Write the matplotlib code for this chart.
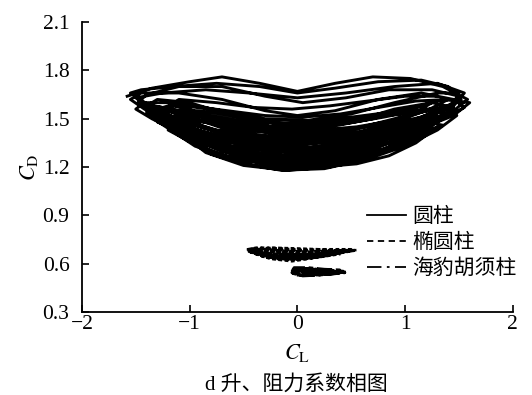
import numpy as np
import matplotlib
matplotlib.use("Agg")
import matplotlib.pyplot as plt

plt.rcParams['font.family'] = ['Liberation Serif', 'Noto Sans CJK SC']
plt.rcParams['mathtext.fontset'] = 'stix'

# circular cylinder (CL, CD), read swing by swing
circ = [
    (-1.58, 1.64), (-1.35, 1.69), (-1.0, 1.73), (-0.7, 1.76), (-0.35, 1.72), (0, 1.67), (0.35, 1.72), (0.7, 1.76), (1.05, 1.75), (1.35, 1.70), (1.58, 1.62),
    (1.45, 1.55), (1.2, 1.47), (0.8, 1.36), (0.4, 1.28), (0, 1.25), (-0.4, 1.28), (-0.8, 1.36), (-1.15, 1.46), (-1.42, 1.56), (-1.55, 1.62),
    (-1.45, 1.66), (-1.1, 1.66), (-0.7, 1.62), (-0.3, 1.55), (0, 1.52), (0.35, 1.55), (0.75, 1.62), (1.15, 1.66), (1.45, 1.62), (1.55, 1.57),
    (1.35, 1.50), (1.1, 1.40), (0.75, 1.30), (0.35, 1.22), (0, 1.19), (-0.4, 1.21), (-0.75, 1.28), (-1.0, 1.37), (-1.25, 1.50), (-1.4, 1.58),
    (-1.3, 1.62), (-1.0, 1.60), (-0.6, 1.52), (-0.25, 1.45), (0.1, 1.43), (0.5, 1.48), (0.9, 1.56), (1.25, 1.60), (1.45, 1.57),
    (1.3, 1.48), (1.05, 1.38), (0.7, 1.27), (0.3, 1.20), (-0.1, 1.18), (-0.5, 1.21), (-0.85, 1.29), (-1.1, 1.42), (-1.3, 1.53), (-1.48, 1.60),
    (-1.4, 1.65), (-1.1, 1.70), (-0.7, 1.70), (-0.3, 1.64), (0.05, 1.60), (0.45, 1.63), (0.85, 1.68), (1.25, 1.68), (1.5, 1.64),
    (1.4, 1.57), (1.1, 1.50), (0.7, 1.40), (0.3, 1.33), (-0.1, 1.31), (-0.5, 1.34), (-0.9, 1.42), (-1.2, 1.52), (-1.4, 1.59),
    (-1.25, 1.57), (-0.95, 1.50), (-0.6, 1.42), (-0.25, 1.37), (0.1, 1.36), (0.5, 1.40), (0.85, 1.47), (1.15, 1.54), (1.4, 1.58),
    (1.25, 1.52), (0.95, 1.42), (0.6, 1.33), (0.2, 1.27), (-0.2, 1.26), (-0.55, 1.30), (-0.9, 1.38), (-1.15, 1.48), (-1.35, 1.56),
    (-1.2, 1.55), (-0.9, 1.46), (-0.55, 1.38), (-0.2, 1.33), (0.2, 1.32), (0.55, 1.36), (0.9, 1.43), (1.2, 1.52), (1.45, 1.60),
    (1.5, 1.66), (1.3, 1.66), (0.9, 1.60), (0.5, 1.53), (0.1, 1.49), (-0.3, 1.50), (-0.7, 1.55), (-1.1, 1.60), (-1.42, 1.60), (-1.5, 1.56),
    (-1.35, 1.50), (-1.05, 1.40), (-0.7, 1.30), (-0.35, 1.24), (0, 1.22), (0.4, 1.25), (0.75, 1.32), (1.05, 1.42), (1.3, 1.52),
    (1.2, 1.50), (0.9, 1.45), (0.55, 1.40), (0.2, 1.37), (-0.2, 1.38), (-0.6, 1.43), (-0.95, 1.50), (-1.25, 1.56), (-1.45, 1.58),
    (-1.3, 1.55), (-1.0, 1.47), (-0.65, 1.40), (-0.3, 1.35), (0.05, 1.34), (0.4, 1.37), (0.75, 1.42), (1.1, 1.48), (1.35, 1.52),
    (1.15, 1.44), (0.85, 1.35), (0.5, 1.28), (0.15, 1.24), (-0.25, 1.24), (-0.6, 1.28), (-0.95, 1.36), (-1.2, 1.45), (-1.4, 1.54),
    (-1.2, 1.58), (-0.9, 1.57), (-0.55, 1.52), (-0.2, 1.47), (0.15, 1.46), (0.5, 1.49), (0.85, 1.53), (1.2, 1.55), (1.48, 1.52),
    (1.3, 1.43), (1.0, 1.33), (0.65, 1.25), (0.25, 1.19), (-0.15, 1.18), (-0.5, 1.22), (-0.8, 1.28), (-1.05, 1.38), (-1.3, 1.50),
    (-1.15, 1.50), (-0.85, 1.44), (-0.5, 1.40), (-0.15, 1.39), (0.2, 1.40), (0.55, 1.44), (0.9, 1.50), (1.2, 1.56), (1.42, 1.55),
    (1.3, 1.50), (1.0, 1.43), (0.65, 1.36), (0.3, 1.30), (-0.05, 1.29), (-0.45, 1.32), (-0.8, 1.39), (-1.1, 1.47), (-1.35, 1.55),
    (-1.5, 1.63), (-1.25, 1.66), (-0.85, 1.68), (-0.45, 1.66), (0, 1.63), (0.45, 1.66), (0.9, 1.70), (1.3, 1.72), (1.55, 1.66),
    (1.4, 1.54), (1.1, 1.45), (0.7, 1.35), (0.3, 1.29), (-0.1, 1.27), (-0.5, 1.29), (-0.85, 1.34), (-1.1, 1.42), (-1.3, 1.48),
    (-1.1, 1.46), (-0.8, 1.41), (-0.45, 1.36), (-0.1, 1.34), (0.3, 1.35), (0.65, 1.39), (0.95, 1.44), (1.2, 1.48), (1.35, 1.46),
    (1.1, 1.38), (0.8, 1.30), (0.45, 1.24), (0.1, 1.21), (-0.3, 1.22), (-0.65, 1.26), (-0.95, 1.33), (-1.2, 1.44), (-1.38, 1.52),
    (-1.2, 1.52), (-0.9, 1.48), (-0.5, 1.45), (-0.1, 1.43), (0.3, 1.45), (0.7, 1.50), (1.05, 1.56), (1.35, 1.62), (1.6, 1.60),
    (1.45, 1.52), (1.15, 1.44), (0.8, 1.37), (0.4, 1.33), (0, 1.31), (-0.4, 1.33), (-0.75, 1.37), (-1.05, 1.45), (-1.3, 1.55), (-1.55, 1.66),
    (-1.45, 1.68), (-1.15, 1.70), (-0.75, 1.72), (-0.35, 1.70), (0, 1.66), (0.35, 1.69), (0.75, 1.73), (1.15, 1.74), (1.4, 1.70), (1.52, 1.62),
    (1.35, 1.55), (1.05, 1.47), (0.7, 1.40), (0.35, 1.36), (0, 1.35), (-0.35, 1.37), (-0.7, 1.41), (-1.0, 1.47), (-1.25, 1.53),
    (-1.05, 1.49), (-0.75, 1.43), (-0.4, 1.39), (-0.05, 1.38), (0.3, 1.39), (0.65, 1.42), (0.95, 1.47), (1.25, 1.52),
    (1.05, 1.45), (0.75, 1.39), (0.4, 1.34), (0.05, 1.32), (-0.3, 1.33), (-0.65, 1.36), (-0.95, 1.42), (-1.2, 1.49),
    (-1.0, 1.43), (-0.7, 1.37), (-0.35, 1.32), (0, 1.30), (0.35, 1.31), (0.7, 1.35), (1.0, 1.41), (1.25, 1.47),
    (1.05, 1.40), (0.75, 1.33), (0.4, 1.28), (0.05, 1.26), (-0.3, 1.27), (-0.65, 1.31), (-0.95, 1.38), (-1.2, 1.46),
    (-1.0, 1.41), (-0.7, 1.34), (-0.35, 1.29), (0, 1.27), (0.35, 1.28), (0.7, 1.32), (1.0, 1.38), (1.25, 1.45),
    (1.05, 1.36), (0.75, 1.29), (0.4, 1.24), (0.05, 1.22), (-0.3, 1.23), (-0.65, 1.27), (-0.95, 1.34), (-1.2, 1.43),
    (-1.0, 1.38), (-0.7, 1.31), (-0.35, 1.26), (0, 1.24), (0.35, 1.25), (0.7, 1.29), (1.0, 1.35), (1.25, 1.42),
    (1.1, 1.48), (0.8, 1.44), (0.45, 1.41), (0.1, 1.40), (-0.25, 1.41), (-0.6, 1.44), (-0.9, 1.49), (-1.15, 1.54),
    (-0.95, 1.52), (-0.6, 1.48), (-0.25, 1.45), (0.1, 1.45), (0.45, 1.47), (0.8, 1.51), (1.1, 1.55), (1.35, 1.57),
    (1.15, 1.51), (0.85, 1.47), (0.5, 1.44), (0.15, 1.42), (-0.2, 1.42), (-0.55, 1.45), (-0.85, 1.50), (-1.1, 1.55),
    (-0.9, 1.55), (-0.55, 1.51), (-0.2, 1.49), (0.15, 1.49), (0.5, 1.51), (0.85, 1.54), (1.15, 1.58),
    (0.95, 1.53), (0.6, 1.50), (0.25, 1.48), (-0.1, 1.47), (-0.45, 1.48), (-0.8, 1.52), (-1.05, 1.56),
    (-0.85, 1.30), (-0.55, 1.25), (-0.2, 1.21), (0.2, 1.20), (0.55, 1.22), (0.85, 1.27), (1.1, 1.35), (1.3, 1.45),
    (1.1, 1.40), (0.8, 1.34), (0.45, 1.30), (0.1, 1.29), (-0.25, 1.30), (-0.6, 1.33), (-0.9, 1.40), (-1.15, 1.50), (-1.35, 1.58),
    (-1.15, 1.56), (-0.8, 1.50), (-0.45, 1.46), (-0.1, 1.45), (0.25, 1.46), (0.6, 1.50), (0.95, 1.55), (1.25, 1.60),
    (1.05, 1.52), (0.75, 1.46), (0.4, 1.42), (0.05, 1.41), (-0.3, 1.43), (-0.65, 1.47), (-0.95, 1.53), (-1.2, 1.60),
    (-1.0, 1.58), (-0.65, 1.55), (-0.3, 1.52), (0.05, 1.51), (0.4, 1.53), (0.75, 1.57), (1.1, 1.61), (1.4, 1.62),
    (1.2, 1.55), (0.9, 1.49), (0.55, 1.45), (0.2, 1.43), (-0.15, 1.44), (-0.5, 1.47), (-0.8, 1.51), (-1.05, 1.57),
    (-1.2, 1.48), (-0.9, 1.35), (-0.6, 1.29), (-0.25, 1.25), (0.1, 1.24), (0.45, 1.26), (0.8, 1.31), (1.05, 1.38), (1.25, 1.44),
    (1.0, 1.44), (0.7, 1.38), (0.35, 1.33), (0, 1.32), (-0.35, 1.34), (-0.7, 1.38), (-1.0, 1.45), (-1.25, 1.55),
    (-1.1, 1.62), (-0.75, 1.60), (-0.4, 1.57), (-0.05, 1.56), (0.3, 1.58), (0.65, 1.61), (1.0, 1.64), (1.3, 1.64),
]

# elliptical cylinder
ellip = [
    (-0.47, 0.69), (-0.3, 0.685), (-0.1, 0.67), (0.1, 0.665), (0.3, 0.67), (0.55, 0.685),
    (0.45, 0.675), (0.25, 0.655), (0.05, 0.64), (-0.15, 0.64), (-0.3, 0.655), (-0.45, 0.68),
    (-0.35, 0.70), (-0.15, 0.695), (0.05, 0.685), (0.25, 0.69), (0.5, 0.69),
    (0.4, 0.67), (0.2, 0.645), (0.0, 0.625), (-0.2, 0.63), (-0.4, 0.665),
    (-0.42, 0.695), (-0.2, 0.68), (0.0, 0.66), (0.2, 0.66), (0.52, 0.68),
    (0.35, 0.66), (0.15, 0.635), (-0.05, 0.615), (-0.25, 0.63), (-0.45, 0.675),
    (-0.3, 0.69), (-0.1, 0.68), (0.1, 0.675), (0.3, 0.68), (0.48, 0.685),
    (0.3, 0.665), (0.1, 0.65), (-0.1, 0.645), (-0.3, 0.66), (-0.46, 0.69),
    (-0.38, 0.70), (-0.2, 0.69), (0.0, 0.68), (0.2, 0.68), (0.42, 0.685),
    (0.25, 0.66), (0.05, 0.63), (-0.12, 0.625), (-0.32, 0.645), (-0.44, 0.685),
    (-0.25, 0.70), (0.0, 0.695), (0.2, 0.69), (0.45, 0.675), (0.53, 0.685),
    (0.38, 0.665), (0.18, 0.65), (-0.02, 0.645), (-0.22, 0.65), (-0.4, 0.675),
    (-0.28, 0.675), (-0.08, 0.66), (0.12, 0.655), (0.32, 0.665), (0.5, 0.68),
    (0.28, 0.65), (0.08, 0.63), (-0.08, 0.63), (-0.3, 0.64), (-0.43, 0.67),
    (-0.35, 0.665), (-0.15, 0.655), (0.05, 0.65), (0.25, 0.665), (0.46, 0.68),
    (0.3, 0.672), (0.1, 0.66), (-0.1, 0.655), (-0.3, 0.668), (-0.45, 0.685),
    (-0.2, 0.645), (0.0, 0.635), (0.2, 0.64), (0.4, 0.66),
]

# seal-whisker cylinder
seal = [
    (-0.05, 0.56), (0.05, 0.57), (0.15, 0.565), (0.3, 0.56), (0.45, 0.55),
    (0.4, 0.545), (0.25, 0.535), (0.1, 0.53), (0.0, 0.535), (-0.05, 0.55),
    (-0.03, 0.575), (0.1, 0.575), (0.25, 0.565), (0.42, 0.56),
    (0.35, 0.54), (0.2, 0.53), (0.05, 0.525), (-0.04, 0.54),
    (-0.02, 0.565), (0.12, 0.57), (0.3, 0.555), (0.44, 0.545),
    (0.3, 0.535), (0.15, 0.53), (0.0, 0.53), (-0.05, 0.545),
    (-0.01, 0.57), (0.08, 0.565), (0.2, 0.56), (0.38, 0.55),
    (0.25, 0.545), (0.1, 0.54), (-0.03, 0.55),
    (0.05, 0.555), (0.2, 0.552), (0.35, 0.548), (0.43, 0.553),
    (0.28, 0.55), (0.12, 0.548), (0.0, 0.552), (-0.04, 0.56),
]

labels = ['圆柱', '椭圆柱', '海豹胡须柱']

fig = plt.figure(figsize=(5.32, 3.95), dpi=100)
ax = fig.add_axes([0.154, 0.21, 0.81, 0.734])

c = np.array(circ)
e = np.array(ellip)
s = np.array(seal)
ax.plot(c[:, 0], c[:, 1], color='black', lw=2.1, ls='-', label=labels[0])
ax.plot(e[:, 0], e[:, 1], color='black', lw=1.8, ls=(0, (1.5, 1)), label=labels[1])
ax.plot(s[:, 0], s[:, 1], color='black', lw=2.2, ls=(0, (5, 1.2, 1.5, 1.2)), label=labels[2])

ax.set_xlim(-2, 2)
ax.set_ylim(0.3, 2.1)
ax.set_xticks([-2, -1, 0, 1, 2])
ax.set_yticks([0.3, 0.6, 0.9, 1.2, 1.5, 1.8, 2.1])
ax.set_yticklabels(['0.3', '0.6', '0.9', '1.2', '1.5', '1.8', '2.1'])
ax.tick_params(direction='in', length=5, width=1.2, labelsize=15.5)
ax.tick_params(axis='x', pad=2)
ax.tick_params(axis='y', pad=9)
for side in ['top', 'right']:
    ax.spines[side].set_visible(False)
for side in ['left', 'bottom']:
    ax.spines[side].set_linewidth(1.3)

ax.set_xlabel('$C_{\\mathrm{L}}$', fontsize=16, labelpad=6)
ax.set_ylabel('$C_{\\mathrm{D}}$', fontsize=16, labelpad=2)

leg = ax.legend(loc='upper left', bbox_to_anchor=(0.661, 0.36), frameon=False,
                fontsize=15, handlelength=1.9, handletextpad=0.3, labelspacing=0.3,
                borderpad=0, borderaxespad=0)
hl = leg.get_lines()
for h in hl:
    h.set_linewidth(1.3)
hl[1].set_linestyle((0, (3.5, 2.5)))
hl[2].set_linestyle((0, (8, 3, 1.5, 3)))

fig.text(0.558, 0.012, 'd 升、阻力系数相图', ha='center', fontsize=15)

fig.savefig('out.png', dpi=100)
